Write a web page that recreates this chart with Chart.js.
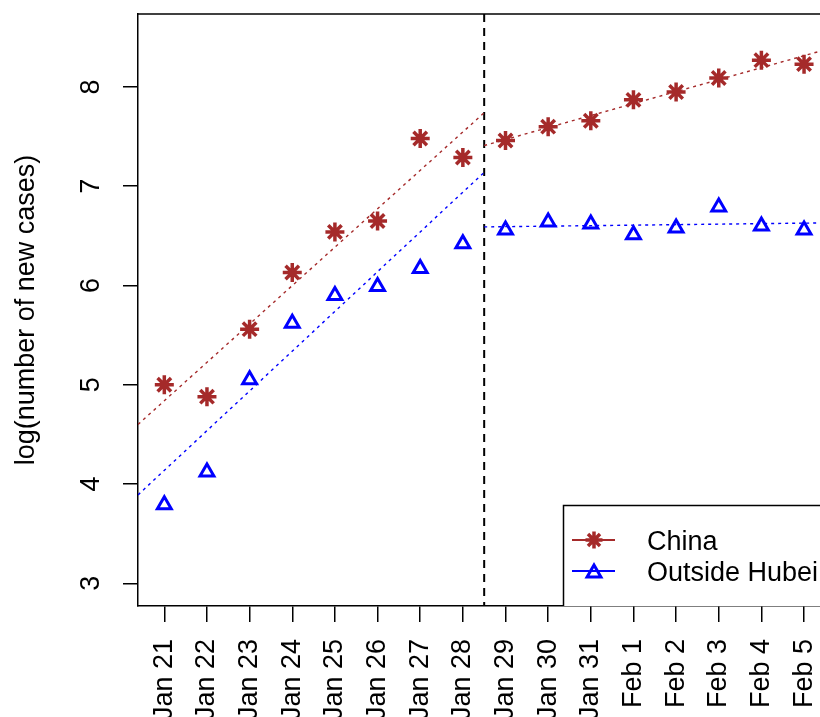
<!DOCTYPE html>
<html>
<head>
<meta charset="utf-8">
<script src="https://cdn.jsdelivr.net/npm/chart.js@4/dist/chart.umd.min.js"></script>
<style>
  html, body { margin: 0; padding: 0; background: #fff; }
  canvas { display: block; }
</style>
</head>
<body>
<canvas id="c" width="820" height="717"></canvas>
<script>
// ---- data ----
const dates = ['Jan 21','Jan 22','Jan 23','Jan 24','Jan 25','Jan 26','Jan 27','Jan 28',
               'Jan 29','Jan 30','Jan 31','Feb 1','Feb 2','Feb 3','Feb 4','Feb 5'];
const chinaLog = [5.00, 4.88, 5.56, 6.13, 6.54, 6.65, 7.48, 7.29,
                  7.46, 7.60, 7.66, 7.87, 7.95, 8.09, 8.27, 8.23];
const outsideHubeiLog = [3.79, 4.12, 5.05, 5.62, 5.90, 5.99, 6.17, 6.42,
                         6.56, 6.64, 6.62, 6.51, 6.58, 6.79, 6.60, 6.56];
const yTicks = [3, 4, 5, 6, 7, 8];
const xRange = [-0.617, 15.374];
const yRange = [2.771, 8.735];
const breakX = 7.5;
const chinaFitBefore = [4.60, 7.74];
const chinaFitAfter = [7.41, 8.36];
const hubeiFitBefore = [3.89, 7.14];
const hubeiFitAfter = [6.59, 6.63];
const seriesNames = ['China', 'Outside Hubei'];

const BROWN = '#A52A2A';
const BLUE = '#0000FF';
const FONT = "'Liberation Sans', Arial, sans-serif";

Chart.defaults.font.family = FONT;
Chart.defaults.font.size = 27;
Chart.defaults.color = '#000';

const pts = arr => arr.map((v, i) => ({ x: i, y: v }));
const seg = (x0, x1, ys) => [{ x: x0, y: ys[0] }, { x: x1, y: ys[1] }];

const framePlugin = {
  id: 'frame',
  afterDraw(chart) {
    const ctx = chart.ctx, a = chart.chartArea;
    ctx.save();
    // top border of box
    ctx.strokeStyle = '#000';
    ctx.lineWidth = 1.5;
    ctx.beginPath();
    ctx.moveTo(a.left, a.top);
    ctx.lineTo(chart.width + 2, a.top);
    ctx.stroke();
    // y tick labels (rotated, parallel to the axis)
    const ys = chart.scales.y;
    ctx.fillStyle = '#000';
    ctx.font = '27px ' + FONT;
    ctx.textAlign = 'center';
    ctx.textBaseline = 'alphabetic';
    ys.ticks.forEach(t => {
      const py = ys.getPixelForValue(t.value);
      ctx.save();
      ctx.translate(99, py);
      ctx.rotate(-Math.PI / 2);
      ctx.fillText(String(t.value), 0, 0);
      ctx.restore();
    });
    // legend
    const lx = 563.5, ly = 505.5;
    ctx.fillStyle = '#fff';
    ctx.fillRect(lx, ly, chart.width + 5 - lx, a.bottom - ly);
    ctx.strokeStyle = '#000';
    ctx.lineWidth = 1.5;
    ctx.beginPath();
    ctx.moveTo(chart.width + 5, ly);
    ctx.lineTo(lx, ly);
    ctx.lineTo(lx, a.bottom);
    ctx.stroke();
    const rows = [
      { name: seriesNames[0], color: BROWN, y: 540, sym: 'star' },
      { name: seriesNames[1], color: BLUE, y: 571, sym: 'tri' }
    ];
    rows.forEach(r => {
      ctx.strokeStyle = r.color;
      ctx.lineWidth = 2;
      ctx.beginPath();
      ctx.moveTo(572, r.y);
      ctx.lineTo(615, r.y);
      ctx.stroke();
      const cx = 594;
      if (r.sym === 'star') {
        ctx.lineWidth = 3.5;
        const rad = 8.5;
        ctx.beginPath();
        for (let k = 0; k < 4; k++) {
          const ang = k * Math.PI / 4;
          ctx.moveTo(cx - Math.cos(ang) * rad, r.y - Math.sin(ang) * rad);
          ctx.lineTo(cx + Math.cos(ang) * rad, r.y + Math.sin(ang) * rad);
        }
        ctx.stroke();
      } else {
        ctx.lineWidth = 3;
        const rad = 8;
        const cy = r.y + 2;
        ctx.beginPath();
        ctx.moveTo(cx, cy - rad);
        ctx.lineTo(cx + Math.sin(2 * Math.PI / 3) * rad, cy + rad / 2);
        ctx.lineTo(cx - Math.sin(2 * Math.PI / 3) * rad, cy + rad / 2);
        ctx.closePath();
        ctx.stroke();
      }
      ctx.fillStyle = '#000';
      ctx.font = '27px ' + FONT;
      ctx.textAlign = 'left';
      ctx.textBaseline = 'alphabetic';
      ctx.fillText(r.name, 647, r.y + 10);
    });
    ctx.restore();
  }
};

new Chart(document.getElementById('c'), {
  type: 'line',
  data: {
    datasets: [
      { label: seriesNames[0], data: pts(chinaLog), showLine: false,
        pointStyle: 'star', pointRadius: 9.5, pointBorderWidth: 3.5,
        pointBorderColor: BROWN, pointBackgroundColor: BROWN, borderColor: BROWN },
      { label: seriesNames[1], data: pts(outsideHubeiLog), showLine: false,
        pointStyle: 'triangle', pointRadius: 8, pointBorderWidth: 3,
        pointBorderColor: BLUE, pointBackgroundColor: 'rgba(0,0,0,0)', borderColor: BLUE },
      { label: 'fit1', data: seg(xRange[0], breakX, chinaFitBefore), borderColor: BROWN,
        borderWidth: 1.4, borderDash: [3, 4], pointRadius: 0 },
      { label: 'fit2', data: seg(breakX, xRange[1], chinaFitAfter), borderColor: BROWN,
        borderWidth: 1.4, borderDash: [3, 4], pointRadius: 0 },
      { label: 'fit3', data: seg(xRange[0], breakX, hubeiFitBefore), borderColor: BLUE,
        borderWidth: 1.4, borderDash: [3, 4], pointRadius: 0 },
      { label: 'fit4', data: seg(breakX, xRange[1], hubeiFitAfter), borderColor: BLUE,
        borderWidth: 1.4, borderDash: [3, 4], pointRadius: 0 },
      { label: 'break', data: [{ x: breakX, y: yRange[1] }, { x: breakX, y: yRange[0] }],
        borderColor: '#000', borderWidth: 2, borderDash: [8, 6], pointRadius: 0 }
    ]
  },
  options: {
    responsive: false,
    animation: false,
    devicePixelRatio: 1,
    layout: { padding: { top: 14, right: 0, left: 0, bottom: 0 }, autoPadding: false },
    plugins: { legend: { display: false }, tooltip: { enabled: false } },
    scales: {
      x: {
        type: 'linear',
        min: xRange[0], max: xRange[1],
        afterBuildTicks: s => { s.ticks = dates.map((_, i) => ({ value: i })); },
        afterFit: s => { s.height = 111; s.paddingLeft = 0; s.paddingRight = 0; },
        ticks: {
          autoSkip: false, minRotation: 90, maxRotation: 90, padding: 17,
          color: '#000', font: { size: 27 },
          callback: v => dates[v] ?? ''
        },
        grid: { drawOnChartArea: false, drawTicks: true, tickLength: 16, color: '#000', lineWidth: 1.5 },
        border: { display: true, color: '#000', width: 1.5 }
      },
      y: {
        type: 'linear',
        min: yRange[0], max: yRange[1],
        afterBuildTicks: s => { s.ticks = yTicks.map(v => ({ value: v })); },
        afterFit: s => { s.width = 138; s.paddingTop = 0; s.paddingBottom = 0; },
        ticks: { display: false },
        grid: { drawOnChartArea: false, drawTicks: true, tickLength: 15, color: '#000', lineWidth: 1.5 },
        border: { display: true, color: '#000', width: 1.5 },
        title: { display: true, text: 'log(number of new cases)', color: '#000',
                 font: { size: 27 }, padding: { top: 10, bottom: 0 } }
      }
    }
  },
  plugins: [framePlugin]
});
</script>
</body>
</html>
